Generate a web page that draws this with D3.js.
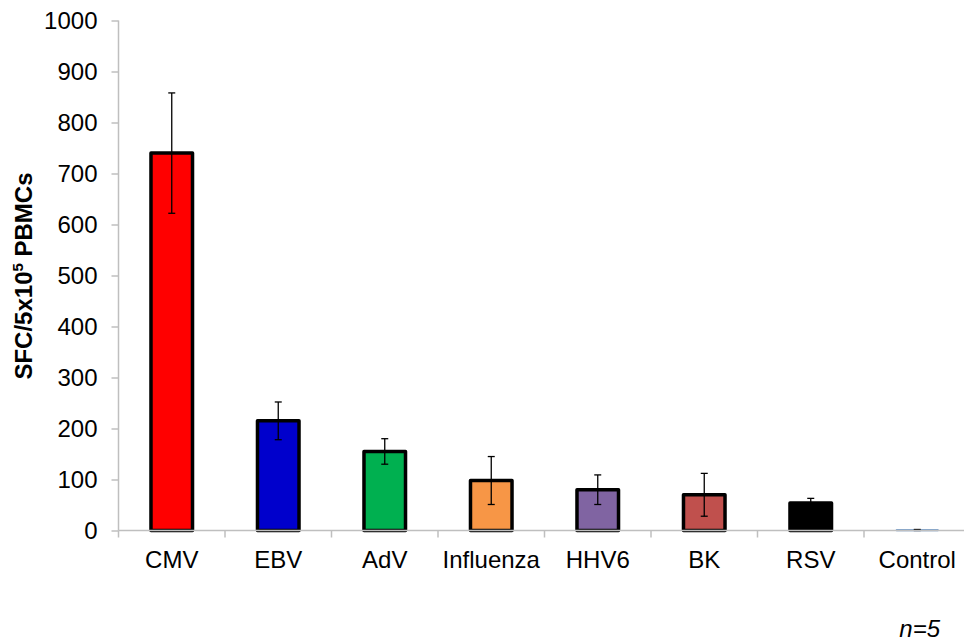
<!DOCTYPE html>
<html>
<head>
<meta charset="utf-8">
<script src="https://cdn.jsdelivr.net/npm/d3@7"></script>
<style>
  html, body { margin: 0; padding: 0; background: #fff; }
  text { font-family: "Liberation Sans", Arial, sans-serif; }
</style>
</head>
<body>
<svg id="chart" width="964" height="642"></svg>
<script>
const categories = ["CMV", "EBV", "AdV", "Influenza", "HHV6", "BK", "RSV", "Control"];
const means = [740, 215, 155, 98, 80, 70, 54, 1];
const errors = [118, 37, 25, 47, 29, 42, 9, 1];
const colors = ["#ff0000", "#0000cc", "#00b050", "#f79646", "#8064a2", "#c0504d", "#000000", "#4f81bd"];
const yTicks = [0, 100, 200, 300, 400, 500, 600, 700, 800, 900, 1000];

const svg = d3.select("#chart");
const mLeft = 118.5, mRight = 970.5, mTop = 20.5, mBottom = 530.5;

const x = d3.scaleBand().domain(categories).range([mLeft, mRight]).paddingInner(0).paddingOuter(0);
const y = d3.scaleLinear().domain([0, 1000]).range([mBottom, mTop]);
const step = x.step();
const bw = step * 0.39;

// bars
const bars = svg.append("g");
categories.forEach((c, i) => {
  const cx = x(c) + step / 2;
  const isControl = c === "Control";
  bars.append("rect")
    .attr("x", cx - bw / 2)
    .attr("y", y(means[i]))
    .attr("width", bw)
    .attr("height", y(0) - y(means[i]))
    .attr("fill", colors[i])
    .attr("stroke", isControl ? colors[i] : "#000")
    .attr("stroke-width", isControl ? 1.5 : 3.5)
    .attr("stroke-linejoin", "round");
});

// error bars
const eb = svg.append("g").attr("stroke", "#000").attr("stroke-width", 1.3);
categories.forEach((c, i) => {
  const cx = x(c) + step / 2;
  const y1 = y(means[i] + errors[i]);
  const y2 = y(Math.max(0, means[i] - errors[i]));
  eb.append("line").attr("x1", cx).attr("x2", cx).attr("y1", y1).attr("y2", y2);
  eb.append("line").attr("x1", cx - 3.5).attr("x2", cx + 3.5).attr("y1", y1).attr("y2", y1);
  eb.append("line").attr("x1", cx - 3.5).attr("x2", cx + 3.5).attr("y1", y2).attr("y2", y2);
});

// y axis
const yAxis = svg.append("g")
  .attr("transform", `translate(${mLeft},0)`)
  .call(d3.axisLeft(y).tickValues(yTicks).tickSize(7).tickPadding(14).tickFormat(d3.format("d")));
yAxis.select(".domain").attr("stroke", "#bfbfbf").attr("stroke-width", 1.5).attr("d", `M0,${mTop}V${mBottom}`);
yAxis.selectAll(".tick line").attr("stroke", "#bfbfbf").attr("stroke-width", 1.5);
yAxis.selectAll(".tick text").attr("font-size", 24).attr("fill", "#000")
  .attr("font-family", "'Liberation Sans', Arial, sans-serif");

// x axis
const xg = svg.append("g");
xg.append("line").attr("x1", mLeft).attr("x2", mRight).attr("y1", mBottom).attr("y2", mBottom)
  .attr("stroke", "#bfbfbf").attr("stroke-width", 1.5);
categories.forEach((c, i) => {
  const bx = x(c);
  xg.append("line").attr("x1", bx).attr("x2", bx).attr("y1", mBottom).attr("y2", mBottom + 7)
    .attr("stroke", "#bfbfbf").attr("stroke-width", 1.5);
  xg.append("text")
    .attr("x", bx + step / 2)
    .attr("y", 568)
    .attr("text-anchor", "middle")
    .attr("font-size", 24)
    .attr("fill", "#000")
    .text(c);
});

// y title
const title = svg.append("text")
  .attr("transform", "translate(32,276) rotate(-90)")
  .attr("text-anchor", "middle")
  .attr("font-size", 24)
  .attr("font-weight", "bold")
  .attr("fill", "#000");
title.append("tspan").text("SFC/5x10");
title.append("tspan").attr("font-size", 15).attr("dy", -9).text("5");
title.append("tspan").attr("dy", 9).text(" PBMCs");

// n=5
svg.append("text")
  .attr("x", 940).attr("y", 637)
  .attr("text-anchor", "end")
  .attr("font-size", 24)
  .attr("font-style", "italic")
  .attr("fill", "#000")
  .text("n=5");
</script>
</body>
</html>
